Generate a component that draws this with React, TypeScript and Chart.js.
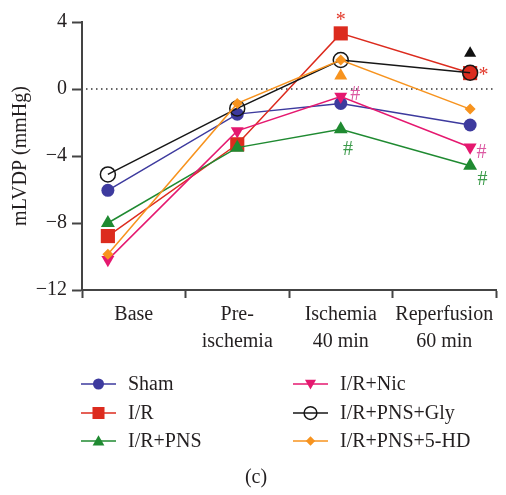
import React, { useEffect, useRef } from 'react';
import { Chart, registerables } from 'chart.js';
import { drawPoint } from 'chart.js/helpers';

Chart.register(...registerables);

// ---- data ----
const categories: string[][] = [['Base'], ['Pre-', 'ischemia'], ['Ischemia', '40 min'], ['Reperfusion', '60 min']];
const timePoints = [-0.25, 1, 2, 3.25];
const yTicks = [4, 0, -4, -8, -12];

const seriesNames = ['Sham', 'I/R', 'I/R+PNS', 'I/R+Nic', 'I/R+PNS+Gly', 'I/R+PNS+5-HD'];
const sham = [-6.05, -1.5, -0.86, -2.15];
const ir = [-8.78, -3.3, 3.32, 0.95];
const irPns = [-8.0, -3.5, -2.41, -4.58];
const irNic = [-10.2, -2.5, -0.45, -3.48];
const irPnsGly = [-5.1, -1.16, 1.73, 0.97];
const irPns5hd = [-9.87, -0.86, 1.73, -1.2];

// significance triangles (x in category units, y in mmHg)
const sigTriX = [2, 3.25];
const sigTriY = [0.79, 2.13];
const sigTriColors = ['#f7931e', '#111111'];

// text annotations
const annotTexts = ['*', '*', '#', '#', '#', '#'];
const annotX = [2, 3.38, 2.14, 2.07, 3.36, 3.37];
const annotY = [4.26, 0.97, -0.32, -3.6, -3.79, -5.43];
const annotColors = ['#e2392b', '#e2392b', '#dc5aa3', '#3b9a4a', '#dc5aa3', '#3b9a4a'];

// ---- styles ----
const FONT = '"Liberation Serif", "Times New Roman", serif';
const AXIS = '#444444';
const TEXT = '#231f20';

const seriesValues = [sham, ir, irPns, irNic, irPnsGly, irPns5hd];
const seriesStyles = [
  { color: '#3d3a9e', style: 'circle', radius: 6.5, rotation: 0, fill: true },
  { color: '#dc2b1e', style: 'rect', radius: 10, rotation: 0, fill: true },
  { color: '#1f8a31', style: 'triangle', radius: 8, rotation: 0, fill: true },
  { color: '#e5186f', style: 'triangle', radius: 7.5, rotation: 180, fill: true },
  { color: '#161616', style: 'circle', radius: 7.5, rotation: 0, fill: false },
  { color: '#f7931e', style: 'rectRot', radius: 5.5, rotation: 0, fill: true },
];

const zeroLinePlugin = {
  id: 'zeroLine',
  beforeDatasetsDraw(chart: any) {
    const { ctx, chartArea, scales } = chart;
    const y = scales.y.getPixelForValue(0);
    ctx.save();
    ctx.strokeStyle = '#333';
    ctx.lineWidth = 1.5;
    ctx.setLineDash([1.5, 3.5]);
    ctx.beginPath();
    ctx.moveTo(chartArea.left + 4, y);
    ctx.lineTo(chartArea.right, y);
    ctx.stroke();
    ctx.restore();
  },
};

const annotPlugin = {
  id: 'annots',
  afterDatasetsDraw(chart: any) {
    const { ctx, scales } = chart;
    ctx.save();
    ctx.font = `20px ${FONT}`;
    ctx.textAlign = 'center';
    ctx.textBaseline = 'middle';
    annotTexts.forEach((t, i) => {
      const px = scales.xv.getPixelForValue(annotX[i]);
      let py = scales.y.getPixelForValue(annotY[i]);
      if (t === '*') py += 3;
      ctx.fillStyle = annotColors[i];
      ctx.fillText(t, px, py);
    });
    ctx.restore();
  },
};

const legendPlugin = {
  id: 'customLegend',
  afterDraw(chart: any) {
    const { ctx } = chart;
    const colLineX = [81, 293];
    const rowY = [384, 413, 441];
    ctx.save();
    seriesNames.forEach((name, i) => {
      const col = Math.floor(i / 3);
      const row = i % 3;
      const s = seriesStyles[i];
      const x0 = colLineX[col];
      const y0 = rowY[row];
      ctx.strokeStyle = s.color;
      ctx.lineWidth = 1.5;
      ctx.setLineDash([]);
      ctx.beginPath();
      ctx.moveTo(x0, y0);
      ctx.lineTo(x0 + 35, y0);
      ctx.stroke();
      ctx.fillStyle = s.fill ? s.color : 'rgba(0,0,0,0)';
      ctx.strokeStyle = s.color;
      ctx.lineWidth = s.fill ? 0 : 1.5;
      drawPoint(ctx, {
        pointStyle: s.style,
        radius: s.radius * 0.85,
        rotation: s.rotation,
        borderWidth: s.fill ? 0 : 1.5,
      } as any, x0 + 17.5, y0 + (s.style === 'triangle' ? (s.rotation ? -1 : 1) : 0));
      ctx.fillStyle = TEXT;
      ctx.font = `20px ${FONT}`;
      ctx.textAlign = 'left';
      ctx.textBaseline = 'middle';
      ctx.fillText(name, x0 + 47, y0 + 1);
    });
    ctx.font = `20px ${FONT}`;
    ctx.textAlign = 'center';
    ctx.fillText('(c)', 256, 478);
    ctx.restore();
  },
};

export default function App() {
  const ref = useRef<HTMLCanvasElement | null>(null);

  useEffect(() => {
    if (!ref.current) return;
    const datasets: any[] = seriesNames.map((name, i) => {
      const s = seriesStyles[i];
      return {
        label: name,
        xAxisID: 'xv',
        yAxisID: 'y',
        data: seriesValues[i].map((v, j) => ({ x: timePoints[j], y: v })),
        borderColor: s.color,
        borderWidth: 1.5,
        pointStyle: s.style,
        pointRadius: s.radius,
        pointRotation: s.rotation,
        pointBackgroundColor: s.fill ? s.color : 'rgba(0,0,0,0)',
        pointBorderColor: s.color,
        pointBorderWidth: s.fill ? 0 : 1.5,
        fill: false,
        tension: 0,
        order: 10 - i,
      };
    });
    datasets.push({
      label: 'sig',
      type: 'scatter',
      xAxisID: 'xv',
      yAxisID: 'y',
      data: sigTriX.map((x, j) => ({ x, y: sigTriY[j] })),
      pointStyle: 'triangle',
      pointRadius: [7.5, 7],
      pointBackgroundColor: sigTriColors,
      pointBorderWidth: 0,
      showLine: false,
      order: 0,
    });

    const chart = new Chart(ref.current, {
      type: 'line',
      data: { labels: categories as any, datasets },
      options: {
        animation: false,
        responsive: false,
        maintainAspectRatio: false,
        layout: { padding: { top: 22, right: 1, bottom: 145, left: 0 } },
        plugins: { legend: { display: false }, tooltip: { enabled: false } },
        scales: {
          x: {
            type: 'category',
            position: 'bottom',
            offset: true,
            grid: {
              offset: true,
              drawOnChartArea: false,
              drawTicks: true,
              tickLength: 8,
              tickColor: AXIS,
              tickWidth: 2,
            },
            border: { display: true, color: AXIS, width: 2 },
            ticks: {
              font: { family: FONT, size: 20, lineHeight: 1.35 },
              color: TEXT,
              padding: 3,
              maxRotation: 0,
              autoSkip: false,
            },
            afterFit: (s: any) => { s.height = 60; },
          },
          xv: { type: 'linear', min: -0.5, max: 3.5, display: false },
          y: {
            type: 'linear',
            min: -12,
            max: 4,
            afterBuildTicks: (s: any) => { s.ticks = yTicks.map((v) => ({ value: v })); },
            grid: {
              drawOnChartArea: false,
              drawTicks: true,
              tickLength: 10,
              tickColor: AXIS,
              tickWidth: 2,
            },
            border: { display: true, color: AXIS, width: 2 },
            ticks: {
              font: { family: FONT, size: 20 },
              color: TEXT,
              padding: 5,
              callback: (v: any) => (v < 0 ? '\u2212' + Math.abs(v) : String(v)),
            },
            title: {
              display: true,
              text: 'mLVDP (mmHg)',
              font: { family: FONT, size: 20 },
              color: TEXT,
              padding: { top: 9, bottom: 0 },
            },
            afterFit: (s: any) => { s.width = 82; },
          },
        },
      } as any,
      plugins: [zeroLinePlugin, annotPlugin, legendPlugin],
    });
    return () => chart.destroy();
  }, []);

  return (
    <div style={{ position: 'fixed', left: 0, top: 0, width: 506, height: 495, background: '#fff' }}>
      <canvas ref={ref} width={506} height={495} style={{ display: 'block', width: 506, height: 495 }} />
    </div>
  );
}
